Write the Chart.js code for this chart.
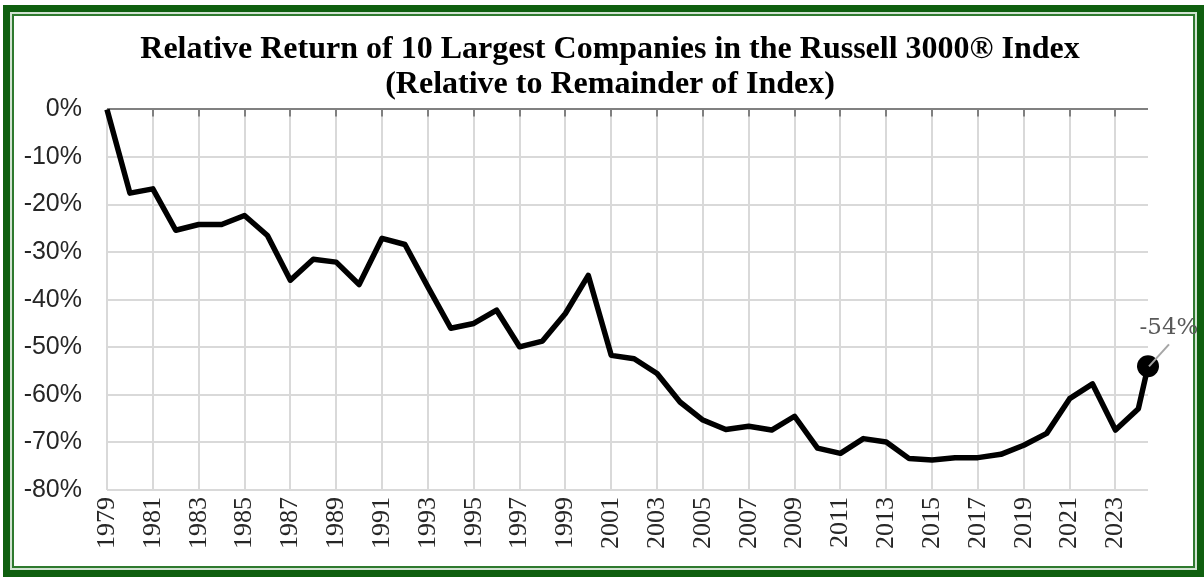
<!DOCTYPE html>
<html>
<head>
<meta charset="utf-8">
<script src="https://cdn.jsdelivr.net/npm/chart.js@4"></script>
<style>
  html, body { margin: 0; padding: 0; background: #fff; }
  #wrap { position: relative; width: 1204px; height: 578px; overflow: hidden; }
  #frame {
    position: absolute; left: 3px; top: 5px; width: 1201px; height: 572px;
    box-sizing: border-box; border: 7px solid #0f5f0f;
    box-shadow: inset 0 0 0 2px #d3e3d3, inset 0 0 0 4px #2f7a2f;
  }
  #chartRussell { position: absolute; left: 0; top: 0; }
</style>
</head>
<body>
<div id="wrap">
  <div id="frame"></div>
  <canvas id="chartRussell" width="1204" height="578"></canvas>
</div>
<script>
// relative return of top 10 vs rest of Russell 3000, cumulative, in %
var years = [1979, 1980, 1981, 1982, 1983, 1984, 1985, 1986, 1987, 1988,
  1989, 1990, 1991, 1992, 1993, 1994, 1995, 1996, 1997, 1998,
  1999, 2000, 2001, 2002, 2003, 2004, 2005, 2006, 2007, 2008,
  2009, 2010, 2011, 2012, 2013, 2014, 2015, 2016, 2017, 2018,
  2019, 2020, 2021, 2022, 2023, 2024, 2024.42];
var relReturn = [0, -17.6, -16.7, -25.4, -24.2, -24.2, -22.3, -26.5, -35.9, -31.5,
  -32.1, -36.8, -27.1, -28.4, -37.3, -46.0, -45.0, -42.2, -49.9, -48.7,
  -42.9, -34.9, -51.7, -52.4, -55.5, -61.5, -65.3, -67.3, -66.6, -67.4,
  -64.5, -71.2, -72.3, -69.2, -69.9, -73.4, -73.7, -73.2, -73.2, -72.5,
  -70.6, -68.1, -60.8, -57.7, -67.4, -62.9, -54];
var xTickYears = [1979, 1981, 1983, 1985, 1987, 1989, 1991, 1993, 1995, 1997,
  1999, 2001, 2003, 2005, 2007, 2009, 2011, 2013, 2015, 2017, 2019, 2021, 2023];
var yTickValues = [0, -10, -20, -30, -40, -50, -60, -70, -80];
var lastLabel = '-54%';
var titleLines = ['Relative Return of 10 Largest Companies in the Russell 3000\u00AE Index',
  '(Relative to Remainder of Index)'];

var lastIdx = relReturn.length - 1;

// dark top axis line with little tick marks hanging down
var topAxisPlugin = {
  id: 'topAxis',
  beforeDatasetsDraw: function(chart) {
    var ctx = chart.ctx, xs = chart.scales.x, area = chart.chartArea;
    ctx.save();
    ctx.strokeStyle = '#808080';
    ctx.lineWidth = 2;
    xTickYears.forEach(function(yr, i) {
      if (i == 0) return;
      var px = Math.round(xs.getPixelForValue(yr));
      ctx.beginPath();
      ctx.moveTo(px, area.top);
      ctx.lineTo(px, area.top + 7);
      ctx.stroke();
    });
    ctx.restore();
  }
};

// callout for the latest value
var endLabelPlugin = {
  id: 'endLabel',
  afterDatasetsDraw: function(chart) {
    var ctx = chart.ctx;
    var p = chart.getDatasetMeta(0).data[lastIdx];
    ctx.save();
    ctx.strokeStyle = '#a6a6a6';
    ctx.lineWidth = 2;
    ctx.beginPath();
    ctx.moveTo(p.x + 1, p.y);
    ctx.lineTo(p.x + 21, p.y - 22);
    ctx.stroke();
    ctx.fillStyle = '#595959';
    ctx.font = '23px "DejaVu Serif"';
    ctx.textAlign = 'center';
    ctx.textBaseline = 'middle';
    ctx.fillText(lastLabel, p.x + 21, p.y - 38);
    ctx.restore();
  }
};

var config = {
  type: 'line',
  data: {
    datasets: [{
      data: years.map(function(yr, i) { return {x: yr, y: relReturn[i]}; }),
      borderColor: '#000',
      backgroundColor: '#000',
      borderWidth: 5.5,
      borderJoinStyle: 'round',
      tension: 0,
      clip: false,
      pointRadius: function(c) { return c.dataIndex == lastIdx ? 11 : 0; },
      pointHoverRadius: function(c) { return c.dataIndex == lastIdx ? 11 : 0; },
      pointBorderWidth: 0,
      pointBackgroundColor: '#000'
    }]
  },
  options: {
    responsive: false,
    animation: false,
    layout: { padding: { left: 16, right: 0, top: 32, bottom: 20 } },
    plugins: {
      legend: { display: false },
      tooltip: { enabled: false },
      title: {
        display: true,
        text: titleLines,
        color: '#000',
        font: { family: '"Liberation Serif"', size: 32, weight: 'bold', lineHeight: 1.1 },
        padding: { top: 0, bottom: 7 }
      }
    },
    scales: {
      x: {
        type: 'linear',
        min: years[0],
        max: years[lastIdx],
        afterFit: function(scale) { scale.height = 68; },
        afterBuildTicks: function(scale) {
          scale.ticks = xTickYears.map(function(v) { return {value: v}; });
        },
        ticks: {
          autoSkip: false,
          minRotation: 90,
          maxRotation: 90,
          padding: 7,
          color: '#262626',
          font: { family: '"Liberation Serif"', size: 26 },
          callback: function(v) { return String(v); }
        },
        grid: { color: '#d9d9d9', lineWidth: 2, drawTicks: false },
        border: { display: false }
      },
      y: {
        min: -80,
        max: 0,
        afterFit: function(scale) { scale.width = 91; },
        afterBuildTicks: function(scale) {
          scale.ticks = yTickValues.map(function(v) { return {value: v}; });
        },
        ticks: {
          padding: 25,
          color: '#262626',
          font: { family: '"Liberation Sans"', size: 25 },
          callback: function(v) { return v + '%'; }
        },
        grid: {
          color: function(c) { return c.tick && c.tick.value == 0 ? '#808080' : '#d9d9d9'; },
          lineWidth: 2,
          drawTicks: false
        },
        border: { display: false }
      },
      // empty right-hand box, only keeps room for the callout
      yRight: {
        position: 'right',
        min: -80,
        max: 0,
        afterFit: function(scale) { scale.width = 56; },
        ticks: { display: false },
        grid: { display: false, drawOnChartArea: false },
        border: { display: false }
      }
    }
  },
  plugins: [topAxisPlugin, endLabelPlugin]
};

var ctx = document.getElementById('chartRussell').getContext('2d');
window.chartRussell = new Chart(ctx, config);
</script>
</body>
</html>
